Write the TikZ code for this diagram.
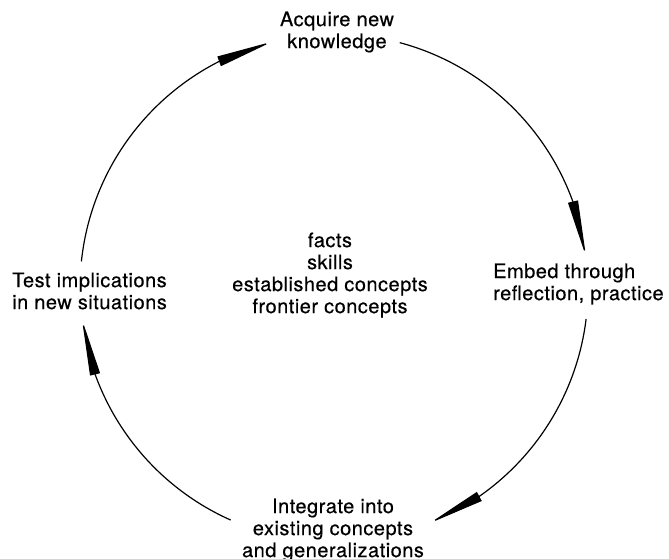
\documentclass[tikz,border=0pt]{standalone}
\usepackage{fontspec}
\setmainfont[LetterSpace=2.5,FakeBold=0.4]{TeX Gyre Heros}
\usetikzlibrary{positioning,calc,arrows.meta,bending}

\begin{document}
\begin{tikzpicture}[x=1pt,y=1pt,
    every node/.style={inner sep=0pt, font=\fontsize{20}{22}\selectfont},
    cyc/.style={line width=1.2pt, -{Triangle[length=57pt,width=10pt,flex]}}]
      \useasboundingbox (0,0) rectangle (669,558);
      \coordinate (0) at (334,270);

      \node (kinds) [align=center] at (330,283) {facts\\skills\\established concepts\\frontier concepts};
      \node (acquire) [align=center] at (337,526) {Acquire new\\knowledge};
      \node (embed) [align=left, anchor=west] at (493,274) {Embed through\\reflection, practice};
      \node (integrate) [align=center] at (333,28) {Integrate into\\existing concepts\\and generalizations};
      \node (test) [align=left, anchor=west] at (12,267) {Test implications\\in new situations};

      \coordinate (1) at ($(0)+(174:254)$);
      \coordinate (2) at ($(0)+(75:254)$);
      \coordinate (3) at ($(0)+(-7:254)$);
      \coordinate (4) at ($(0)+(-114:254)$);

      \draw[cyc] (1) arc[start angle=174, end angle=104, radius=254pt];
      \draw[cyc] (2) arc[start angle=75, end angle=7, radius=254pt];
      \draw[cyc] (3) arc[start angle=-7, end angle=-68, radius=254pt];
      \draw[cyc] (4) arc[start angle=-114, end angle=-173, radius=254pt];
    \end{tikzpicture}
\end{document}
